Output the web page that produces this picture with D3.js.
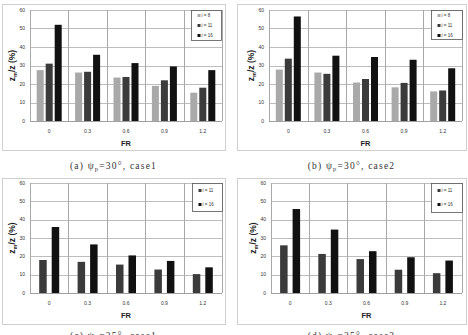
<!DOCTYPE html>
<html>
<head>
<meta charset="utf-8">
<script src="https://cdn.jsdelivr.net/npm/d3@7"></script>
<style>
  body { margin: 0; background: #fff; }
  svg { display: block; }
</style>
</head>
<body>
<div id="chart"></div>
<script>
// categories and tick labels
var frLabels = ["0", "0.3", "0.6", "0.9", "1.2"];
var yTicks = [0, 10, 20, 30, 40, 50, 60];

// (a) psi=30, case1
var a_i8  = [27.5, 26.2, 23.5, 19.0, 15.3];
var a_i11 = [31.0, 26.6, 23.8, 22.0, 18.0];
var a_i16 = [52.0, 35.8, 31.3, 29.5, 27.5];
// (b) psi=30, case2
var b_i8  = [27.8, 26.2, 20.8, 18.2, 16.0];
var b_i11 = [33.7, 25.5, 22.7, 20.6, 16.5];
var b_i16 = [56.5, 35.3, 34.6, 33.1, 28.5];
// (c) psi=25, case1
var c_i11 = [18.0, 17.0, 15.5, 12.8, 10.3];
var c_i16 = [36.0, 26.5, 20.5, 17.5, 14.0];
// (d) psi=25, case2
var d_i11 = [26.0, 21.3, 18.5, 12.7, 10.8];
var d_i16 = [45.8, 34.6, 22.8, 19.5, 17.7];

var seriesColor = { "i = 8": "#a9a9a9", "i = 11": "#3b3b3b", "i = 16": "#111111" };

var panels = [
  { caption: "(a) ", angle: "30°, case1", box: [2, 4, 225, 150], plot: [30, 222, 10, 121], capY: 169,
    series: [["i = 8", a_i8], ["i = 11", a_i11], ["i = 16", a_i16]], legend: [191, 10, 30, 30] },
  { caption: "(b) ", angle: "30°, case2", box: [237, 4, 466, 150], plot: [269, 462, 10, 121], capY: 169,
    series: [["i = 8", b_i8], ["i = 11", b_i11], ["i = 16", b_i16]], legend: [431, 10, 31, 29] },
  { caption: "(c) ", angle: "25°, case1", box: [2, 178, 225, 324], plot: [30, 222, 183, 293], capY: 339,
    series: [["i = 11", c_i11], ["i = 16", c_i16]], legend: [192, 183, 30, 28] },
  { caption: "(d) ", angle: "25°, case2", box: [237, 178, 466, 324], plot: [271, 462, 183, 293], capY: 339,
    series: [["i = 11", d_i11], ["i = 16", d_i16]], legend: [431, 183, 31, 29] }
];

var svg = d3.select("#chart").append("svg")
    .attr("width", 468)
    .attr("height", 335);

panels.forEach(function(p) { drawPanel(p); });

function drawPanel(p) {
    var g = svg.append("g");
    var left = p.plot[0], right = p.plot[1], top = p.plot[2], bottom = p.plot[3];

    // outer frame
    g.append("rect")
        .attr("x", p.box[0] + 0.5).attr("y", p.box[1] + 0.5)
        .attr("width", p.box[2] - p.box[0]).attr("height", p.box[3] - p.box[1])
        .attr("fill", "#fff").attr("stroke", "#cfcfcf").attr("stroke-width", 1);

    var x0 = d3.scaleBand().domain(frLabels).range([left, right]).padding(0);
    var y = d3.scaleLinear().domain([0, 60]).range([bottom, top]);

    var names = p.series.map(function(s) { return s[0]; });
    var groupW = names.length === 3 ? 25 : 20;
    var x1 = d3.scaleBand().domain(names).range([-groupW / 2, groupW / 2])
        .paddingInner(names.length === 3 ? 0.22 : 0.4);

    // horizontal grid
    g.append("g").selectAll("line").data(yTicks).enter().append("line")
        .attr("x1", left).attr("x2", right)
        .attr("y1", function(d) { return Math.round(y(d)) + 0.5; })
        .attr("y2", function(d) { return Math.round(y(d)) + 0.5; })
        .attr("stroke", function(d) { return d === 0 ? "#a0a0a0" : "#bdbdbd"; })
        .attr("stroke-width", 1);

    // vertical grid at category edges
    var edges = frLabels.map(function(c) { return x0(c); }).concat([right]);
    g.append("g").selectAll("line").data(edges).enter().append("line")
        .attr("x1", function(d) { return Math.round(d) + 0.5; })
        .attr("x2", function(d) { return Math.round(d) + 0.5; })
        .attr("y1", top).attr("y2", bottom)
        .attr("stroke", "#a8a8a8").attr("stroke-width", 1);

    // y tick labels
    g.append("g").selectAll("text").data(yTicks).enter().append("text")
        .attr("x", left - 5)
        .attr("y", function(d) { return y(d); })
        .attr("dy", "0.35em")
        .attr("text-anchor", "end")
        .style("font", "5px 'Liberation Sans', Arial, sans-serif")
        .style("fill", "#333")
        .text(function(d) { return d; });

    // bars
    p.series.forEach(function(s) {
        g.append("g").selectAll("rect").data(s[1]).enter().append("rect")
            .attr("x", function(d, i) { return x0(frLabels[i]) + x0.bandwidth() / 2 + x1(s[0]); })
            .attr("y", function(d) { return y(d); })
            .attr("width", x1.bandwidth())
            .attr("height", function(d) { return y(0) - y(d); })
            .attr("fill", seriesColor[s[0]]);
    });

    // category labels
    g.append("g").selectAll("text").data(frLabels).enter().append("text")
        .attr("x", function(d) { return x0(d) + x0.bandwidth() / 2; })
        .attr("y", bottom + 10)
        .attr("dy", "0.35em")
        .attr("text-anchor", "middle")
        .style("font", "5px 'Liberation Sans', Arial, sans-serif")
        .style("fill", "#333")
        .text(function(d) { return d; });

    // x title
    g.append("text")
        .attr("x", (left + right) / 2)
        .attr("y", bottom + 22)
        .attr("dy", "0.35em")
        .attr("text-anchor", "middle")
        .style("font", "bold 7.5px 'Liberation Sans', Arial, sans-serif")
        .style("fill", "#222")
        .text("FR");

    // y title
    var yt = g.append("text")
        .attr("transform", "translate(" + (left - 15) + "," + ((top + bottom) / 2) + ") rotate(-90)")
        .attr("text-anchor", "middle")
        .style("font", "bold 8.5px 'Liberation Sans', Arial, sans-serif")
        .style("fill", "#222");
    yt.append("tspan").text("z");
    yt.append("tspan").attr("dy", 1.5).style("font-size", "5.5px").text("m");
    yt.append("tspan").attr("dy", -1.5).text("/z (%)");

    // legend
    var L = p.legend;
    g.append("rect")
        .attr("x", L[0] + 0.5).attr("y", L[1] + 0.5)
        .attr("width", L[2]).attr("height", L[3])
        .attr("fill", "#fff").attr("stroke", "#555").attr("stroke-width", 0.8);
    var step = names.length === 3 ? 10 : 14;
    var first = names.length === 3 ? 5.5 : 7.5;
    names.forEach(function(n, i) {
        var ly = L[1] + first + i * step;
        g.append("rect")
            .attr("x", L[0] + 6.5).attr("y", ly - 1.5)
            .attr("width", 3).attr("height", 3)
            .attr("fill", seriesColor[n]);
        g.append("text")
            .attr("x", L[0] + 10.5).attr("y", ly)
            .attr("dy", "0.35em")
            .style("font", "4.5px 'Liberation Sans', Arial, sans-serif")
            .style("fill", "#333")
            .text(n);
    });

    // caption below the panel
    var cap = g.append("text")
        .attr("x", (p.box[0] + p.box[2]) / 2)
        .attr("y", p.capY)
        .attr("text-anchor", "middle")
        .style("font", "9.5px 'Liberation Serif', 'DejaVu Serif', serif")
        .style("letter-spacing", "1.2px")
        .style("fill", "#333");
    cap.append("tspan").text(p.caption + "ψ");
    cap.append("tspan").attr("dy", 1.5).style("font-size", "6.5px").text("p");
    cap.append("tspan").attr("dy", -1.5).text("=" + p.angle);
}
</script>
</body>
</html>
